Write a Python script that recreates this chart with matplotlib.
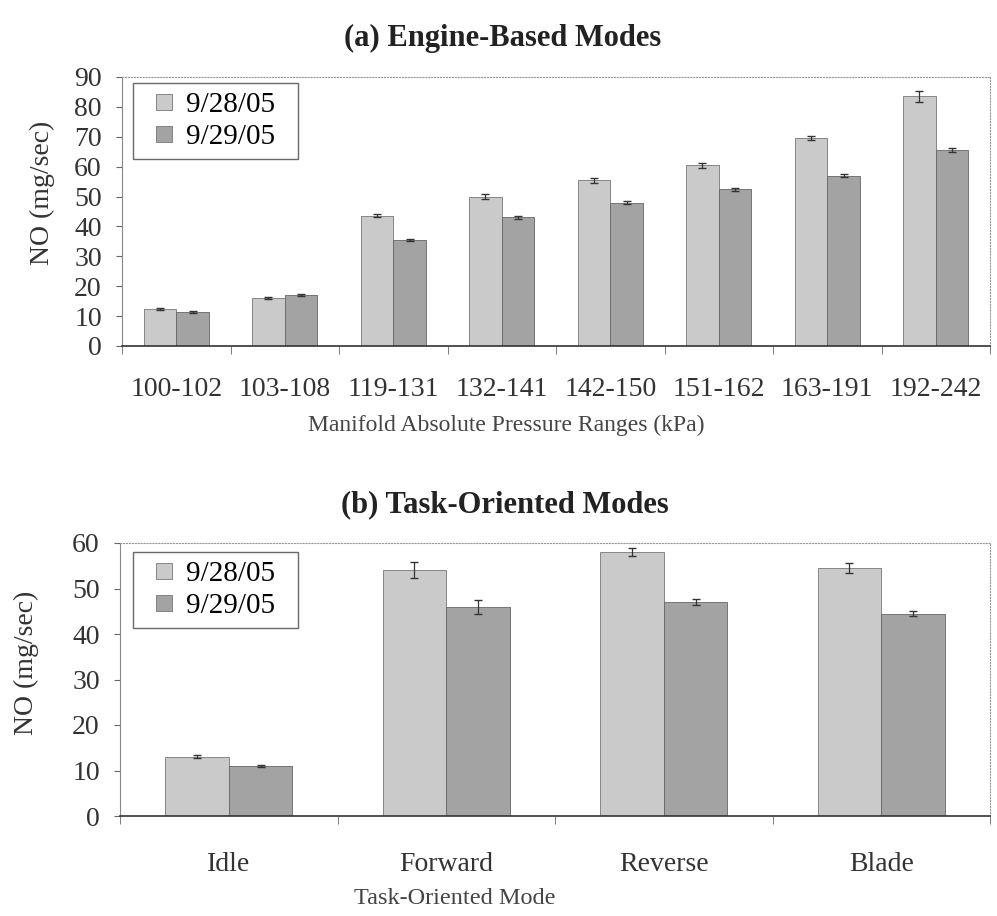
import numpy as np
import matplotlib.pyplot as plt
from matplotlib.lines import Line2D

plt.rcParams['font.family'] = ['Liberation Serif', 'DejaVu Serif']

# (a) engine-based modes
map_ranges = ['100-102', '103-108', '119-131', '132-141', '142-150', '151-162', '163-191', '192-242']
no_0928 = [12.5, 16, 43.5, 50, 55.5, 60.5, 69.5, 83.5]
no_0929 = [11.5, 17, 35.5, 43, 48, 52.5, 57, 65.5]
err_0928 = [0.3, 0.4, 0.5, 0.7, 0.8, 0.8, 0.7, 1.8]
err_0929 = [0.3, 0.4, 0.4, 0.5, 0.6, 0.5, 0.5, 0.6]

# (b) task-oriented modes
tasks = ['Idle', 'Forward', 'Reverse', 'Blade']
task_0928 = [13, 54, 58, 54.5]
task_0929 = [11, 46, 47, 44.5]
task_err_0928 = [0.3, 1.8, 0.8, 1.0]
task_err_0929 = [0.3, 1.5, 0.6, 0.5]

dates = ['9/28/05', '9/29/05']
c1 = '#cacaca'
c2 = '#a3a3a3'
W, H = 997, 916

fig = plt.figure(figsize=(W / 100, H / 100), dpi=100)
ax1 = fig.add_axes([122 / W, 1 - 346 / H, 868 / W, 269 / H])
ax2 = fig.add_axes([120 / W, 1 - 816 / H, 870 / W, 273 / H])


def px(x, y):
    return x / W, 1 - y / H


def draw(ax, cats, a, b, ea, eb, w, ymax, step, legpos, tickpad):
    x = np.arange(len(cats))
    ax.bar(x - w / 2, a, w, yerr=ea, color=c1, edgecolor='#777777', linewidth=0.6,
           capsize=3, error_kw=dict(elinewidth=0.9, ecolor='#333333'))
    ax.bar(x + w / 2, b, w, yerr=eb, color=c2, edgecolor='#666666', linewidth=0.6,
           capsize=3, error_kw=dict(elinewidth=0.9, ecolor='#333333'))
    ax.set_xlim(-0.5, len(cats) - 0.5)
    ax.set_ylim(0, ymax)
    ax.set_yticks(np.arange(0, ymax + 1, step))
    ax.set_xticks(x)
    ax.set_xticklabels(cats)
    ax.set_xticks(np.arange(len(cats) + 1) - 0.5, minor=True)
    ax.tick_params(axis='x', which='major', length=0, pad=tickpad, labelsize=20, colors='#333333')
    ax.tick_params(axis='x', which='minor', length=6, color='#666666')
    ax.tick_params(axis='y', labelsize=20, length=4.5, pad=10, color='#666666', colors='#333333')
    for s in ['top', 'right']:
        ax.spines[s].set_linestyle(':')
        ax.spines[s].set_color('#999999')
        ax.spines[s].set_linewidth(0.8)
    ax.spines['left'].set_color('#888888')
    ax.spines['bottom'].set_color('#333333')
    ax.spines['bottom'].set_linewidth(1.2)
    handles = [Line2D([], [], marker='s', linestyle='none', markersize=12,
                      markerfacecolor=c, markeredgecolor='#777777', markeredgewidth=0.6)
               for c in (c1, c2)]
    leg = ax.legend(handles, [d + '  ' for d in dates], loc='upper left', fontsize=21,
                    frameon=True, fancybox=False, handlelength=1.5, handletextpad=0.0,
                    borderpad=0.3, labelspacing=0.2, borderaxespad=0,
                    bbox_to_anchor=px(*legpos), bbox_transform=fig.transFigure)
    leg.get_frame().set_edgecolor('#444444')
    leg.get_frame().set_linewidth(1.0)


draw(ax1, map_ranges, no_0928, no_0929, err_0928, err_0929, 0.3, 90, 10, (133, 83), 22)
draw(ax2, tasks, task_0928, task_0929, task_err_0928, task_err_0929, 0.293, 60, 10, (133, 552), 26)

fig.text(*px(503, 38), '(a) Engine-Based Modes', fontsize=22, fontweight='bold',
         color='#222222', ha='center', va='center')
fig.text(*px(42, 193), 'NO (mg/sec)', fontsize=20, rotation=90,
         color='#333333', ha='center', va='center')
fig.text(*px(506, 425), 'Manifold Absolute Pressure Ranges (kPa)', fontsize=17,
         color='#444444', ha='center', va='center')
fig.text(*px(505, 505), '(b) Task-Oriented Modes', fontsize=22, fontweight='bold',
         color='#222222', ha='center', va='center')
fig.text(*px(26, 663), 'NO (mg/sec)', fontsize=20, rotation=90,
         color='#333333', ha='center', va='center')
fig.text(*px(455, 898), 'Task-Oriented Mode', fontsize=17.5,
         color='#444444', ha='center', va='center')

fig.savefig('out.png', dpi=100)
